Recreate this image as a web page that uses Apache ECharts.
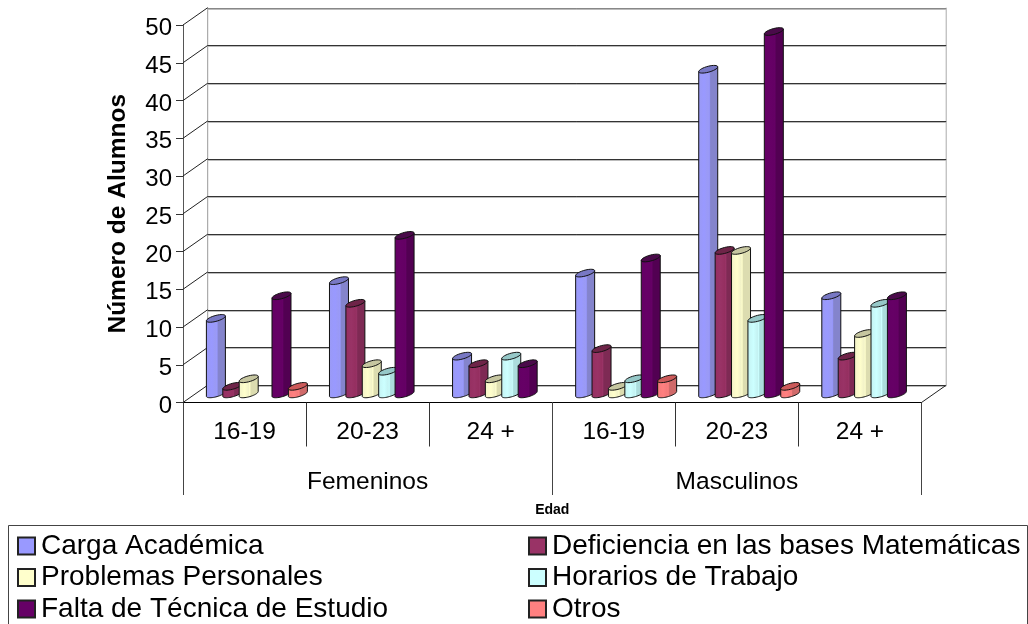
<!DOCTYPE html>
<html><head><meta charset="utf-8">
<style>html,body{margin:0;padding:0;background:#fff}#c{width:1028px;height:624px}</style>
<script src="https://cdn.jsdelivr.net/npm/echarts@6/dist/echarts.min.js"></script>
</head><body><div id="c"></div>
<script>
const ageGroups = ['16-19','20-23','24 +','16-19','20-23','24 +'];
const genders = ['Femeninos','Masculinos'];
const yTicks = [0,5,10,15,20,25,30,35,40,45,50];
const seriesNames = ['Carga Académica','Deficiencia en las bases Matemáticas','Problemas Personales','Horarios de Trabajo','Falta de Técnica de Estudio','Otros'];
const cargaAcademica = [10,15,5,16,43,13];
const deficiencia = [1,12,4,6,19,5];
const problemas = [2,4,2,1,19,8];
const horarios = [0,3,5,2,10,12];
const faltaTecnica = [13,21,4,18,48,13];
const otros = [1,0,0,2,1,0];
const allValues = [cargaAcademica,deficiencia,problemas,horarios,faltaTecnica,otros];

const palette = ['#9999FF','#993366','#FFFFCC','#CCFFFF','#660066','#FF8080'];
const bodyLeft = ['#9a9af4','#952f60','#f2f2c8','#c4f2f2','#640064','#f47a7a'];
const bodyRight = ['#8484cc','#7e2a54','#dcdcb0','#acdcdc','#520052','#d06a6a'];
const topFill = ['#7878c4','#6e2448','#c6c6a0','#96c8c8','#4a0a4a','#cc5a5a'];

const DX = 24.7, DY = -17.3, SPACING = 16.4, A = 9.5, RISE = 2.4, B = 3, BASE_LIFT = -8.6;

function ellipsePts(cx, cy, from, to, n) {
  const pts = [];
  for (let i = 0; i <= n; i++) {
    const t = from + (to - from) * i / n;
    pts.push([cx + A * Math.cos(t), cy - RISE * Math.cos(t) + B * Math.sin(t)]);
  }
  return pts;
}

function renderCyl(k) {
  return function (params, api) {
    const v = api.value(1);
    if (!v) return null;
    const top = api.coord([api.value(0), v]);
    const base = api.coord([api.value(0), 0]);
    const cx = top[0] + DX / 2 + (k - 2.5) * SPACING;
    const yT = top[1] + BASE_LIFT, yB = base[1] + BASE_LIFT;
    const body = ellipsePts(cx, yB, 0, Math.PI, 24).concat(ellipsePts(cx, yT, Math.PI, 0, 1));
    const c1 = bodyLeft[k], c2 = bodyRight[k], lighter = palette[k];
    const fill = new echarts.graphic.LinearGradient(0, 0, 1, 0, [
      {offset:0, color:c1},{offset:0.3, color:lighter},{offset:0.5, color:c1},
      {offset:0.55, color:lighter},{offset:0.62, color:c2},
      {offset:0.78, color:c2},{offset:1, color:c2}
    ]);
    return {type:'group', children:[
      {type:'polygon', shape:{points:body}, style:{fill:fill, stroke:'#111', lineWidth:1}},
      {type:'polygon', shape:{points:ellipsePts(cx, yT, 0, Math.PI*2, 32)}, style:{fill:topFill[k], stroke:'#111', lineWidth:1}}
    ]};
  };
}

function renderWall(params, api) {
  const p = api.coord([0, api.value(0)]);
  const cs = params.coordSys;
  const x0 = cs.x, x1 = cs.x + cs.width;
  const y = Math.round(p[1] + DY) + 0.5;
  const kids = [
    {type:'line', shape:{x1:x0+DX, y1:y+1, x2:x1+DX, y2:y+1}, style:{stroke:'#bbb', lineWidth:1}},
    {type:'line', shape:{x1:x0+DX, y1:y, x2:x1+DX, y2:y}, style:{stroke: api.value(0)===yTicks[yTicks.length-1] ? '#888' : '#333', lineWidth:1}},
    {type:'line', shape:{x1:x0, y1:p[1], x2:x0+DX, y2:p[1]+DY}, style:{stroke:'#222', lineWidth:1}}
  ];
  if (api.value(0) === yTicks[0]) {
    kids.push({type:'line', shape:{x1:x1, y1:p[1], x2:x1+DX, y2:p[1]+DY}, style:{stroke:'#222', lineWidth:1}});
    const t = api.coord([0, yTicks[yTicks.length-1]]);
    kids.push({type:'line', shape:{x1:x0+DX, y1:t[1]+DY, x2:x0+DX, y2:y}, style:{stroke:'#999', lineWidth:1}});
    kids.push({type:'line', shape:{x1:x1+DX, y1:t[1]+DY, x2:x1+DX, y2:y}, style:{stroke:'#aaa', lineWidth:1}});
  }
  return {type:'group', children:kids};
}

const FONT = '"Liberation Sans", Arial, sans-serif';
const legendText = {fontFamily:FONT, fontSize:28, color:'#000', padding:[0,0,0,1]};

const chart = echarts.init(document.getElementById('c'), null, {renderer:'canvas'});
chart.setOption({
  animation:false,
  backgroundColor:'#fff',
  grid:{left:183, top:25, width:738.5, height:377.5, containLabel:false},
  xAxis:[
    {type:'category', data:ageGroups, position:'bottom',
     axisLine:{show:true, lineStyle:{color:'#000', width:1}},
     axisTick:{show:true, length:44, lineStyle:{color:'#333'}, alignWithLabel:false},
     axisLabel:{interval:0, margin:17, fontFamily:FONT, fontSize:24.5, color:'#000'}},
    {type:'category', data:genders, position:'bottom',
     name:'Edad', nameLocation:'middle', nameGap:100.5,
     nameTextStyle:{fontFamily:FONT, fontSize:14, fontWeight:'bold', color:'#000'},
     axisLine:{show:false},
     axisTick:{show:true, length:92.5, lineStyle:{color:'#444'}, alignWithLabel:false},
     axisLabel:{interval:0, margin:67, fontFamily:FONT, fontSize:24.5, color:'#000'}}
  ],
  yAxis:{type:'value', min:yTicks[0], max:yTicks[yTicks.length-1], interval:5,
     name:'Número de Alumnos', nameLocation:'middle', nameGap:52, nameRotate:90,
     nameTextStyle:{fontFamily:FONT, fontSize:24.5, fontWeight:'bold', color:'#000'},
     axisLine:{show:true, lineStyle:{color:'#555', width:1}},
     axisTick:{show:true, length:7, lineStyle:{color:'#333'}},
     axisLabel:{margin:11, formatter:'{a|{value}}', rich:{a:{padding:[7,0,0,0], fontFamily:FONT, fontSize:24, color:'#000'}}, fontFamily:FONT, fontSize:24, color:'#000'},
     splitLine:{show:false}},
  legend:[
    {left:17, top:532, height:120, orient:'vertical', itemWidth:17, itemHeight:17, itemGap:3.5, selectedMode:false, icon:'rect',
     data:[seriesNames[0],seriesNames[2],seriesNames[4]], textStyle:legendText, padding:0},
    {left:528, top:532, height:120, orient:'vertical', itemWidth:17, itemHeight:17, itemGap:3.5, selectedMode:false, icon:'rect',
     data:[seriesNames[1],seriesNames[3],seriesNames[5]], textStyle:legendText, padding:0}
  ],
  graphic:[{type:'polyline', silent:true, z:-1,
     shape:{points:[[8.5,624],[8.5,525.5],[1027.5,525.5],[1027.5,624]]},
     style:{fill:'none', stroke:'#444', lineWidth:1}}],
  series:[
    {type:'custom', name:'pared', silent:true, clip:false, z:1, renderItem:renderWall,
     data:yTicks.map(t=>[t]), encode:{y:0}, legendHoverLink:false}
  ].concat(allValues.map((vals,k)=>({
    type:'custom', name:seriesNames[k], clip:false, z:2+k, silent:true,
    itemStyle:{color:palette[k], borderColor:'#222', borderWidth:1},
    renderItem:renderCyl(k),
    encode:{x:0,y:1},
    data:vals.map((v,i)=>[i,v])
  })))
});
</script></body></html>
